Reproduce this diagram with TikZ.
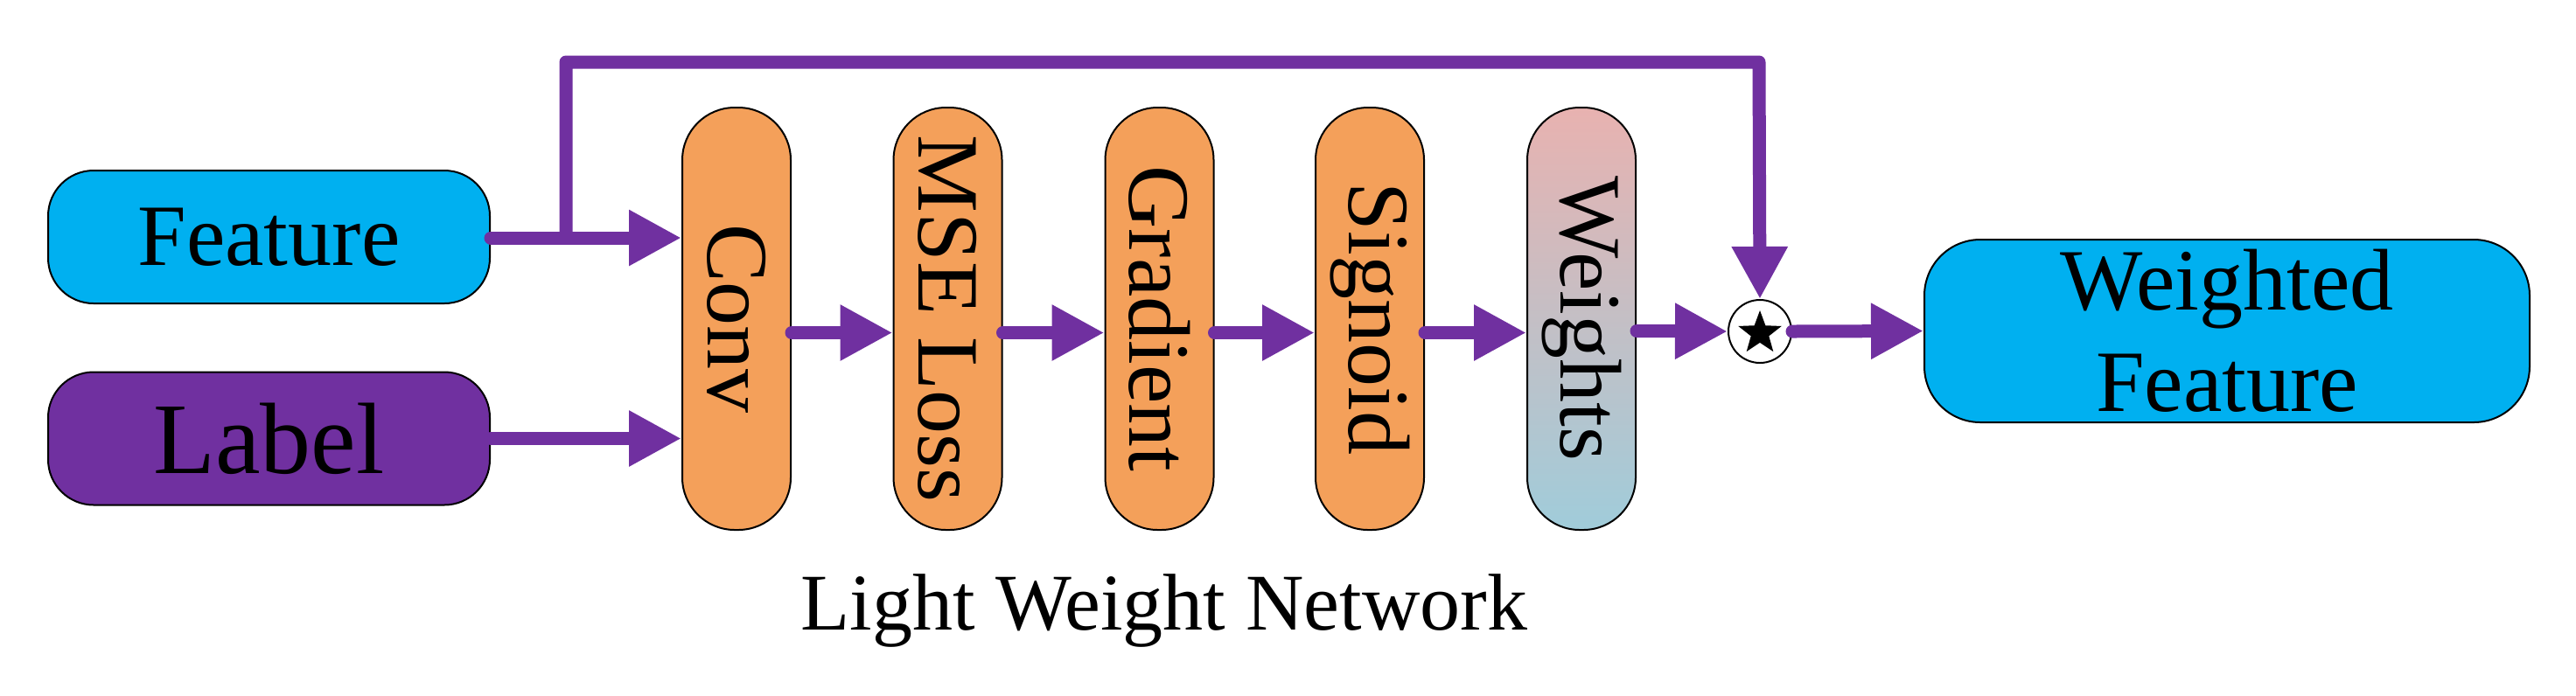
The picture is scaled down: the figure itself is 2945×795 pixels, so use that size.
\documentclass[tikz,border=0pt]{standalone}
\usepackage{fontspec}
\setmainfont{Liberation Serif}
\usetikzlibrary{arrows.meta,shapes.geometric,calc}
\definecolor{cy}{HTML}{00B0F0}
\definecolor{pu}{HTML}{7030A0}
\definecolor{og}{HTML}{F4A05A}
\definecolor{pk}{HTML}{E8B2B0}
\definecolor{bl}{HTML}{A0CCDA}
\begin{document}
\begin{tikzpicture}[x=0.25pt,y=-0.25pt,
  box/.style={draw=black,line width=0.5pt,rounded corners=13pt,minimum width=126.25pt,minimum height=38pt,inner sep=0pt,font=\fontsize{25}{28}\selectfont},
  pill/.style={draw=black,line width=0.5pt,rounded corners=15pt,minimum width=31pt,minimum height=120.75pt,inner sep=0pt,fill=og,rotate=-90,font=\fontsize{25}{28}\selectfont},
  arr/.style={draw=pu,line width=3.75pt,line cap=round,-{Triangle[length=15pt,width=15pt,line cap=butt]}}]
\useasboundingbox (0,0) rectangle (2945,795);
\node[box,fill=cy] (feat) at (307.5,271) {Feature};
\node[box,fill=pu,font=\fontsize{29}{32}\selectfont] (lab) at (307.5,501.5) {Label};
\node[pill,minimum width=120.75pt,minimum height=31pt] (conv) at (842,364.5) {Conv};
\node[pill,minimum width=120.75pt,minimum height=31pt] (mse) at (1083.5,364.5) {MSE Loss};
\node[pill,minimum width=120.75pt,minimum height=31pt] (grad) at (1325.5,364.5) {Gradient};
\node[pill,minimum width=120.75pt,minimum height=31pt] (sig) at (1566,364.5) {Signoid};
\node[pill,minimum width=120.75pt,minimum height=31pt,top color=pk,bottom color=bl] (wts) at (1808,364.5) {Weights};
\node[draw=black,line width=0.5pt,circle,fill=white,minimum size=18pt,inner sep=0pt] (circ) at (2012,379) {};
\node[star,star points=5,star point ratio=2.4,fill=black,minimum size=13pt,inner sep=0pt] (st) at (2012,381) {};
\node[box,fill=cy,minimum width=173pt,minimum height=52.25pt,rounded corners=16pt,align=center,font=\fontsize{25}{29}\selectfont] (wf) at (2546,378.5) {Weighted\\Feature};
\node[anchor=base,font=\fontsize{23}{26}\selectfont] (lwn) at (1331,720) {Light Weight Network};
\coordinate (sk) at (647,272);
\coordinate (tr) at (2011,71);
\draw[arr] (feat.east|-sk) -- (conv.south|-sk);
\draw[arr] (lab.east) -- (conv.south|-lab.east);
\draw[arr] ($(conv.north)+(0,16)$) -- ($(mse.south)+(0,16)$);
\draw[arr] ($(mse.north)+(0,16)$) -- ($(grad.south)+(0,16)$);
\draw[arr] ($(grad.north)+(0,16)$) -- ($(sig.south)+(0,16)$);
\draw[arr] ($(sig.north)+(0,16)$) -- ($(wts.south)+(0,16)$);
\draw[arr] ($(wts.north)+(0,14)$) -- (circ.west);
\draw[arr] (circ.east) -- (wf.west);
\draw[arr,line join=round] (sk) |- (tr) -- (circ.north);
\end{tikzpicture}
\end{document}
